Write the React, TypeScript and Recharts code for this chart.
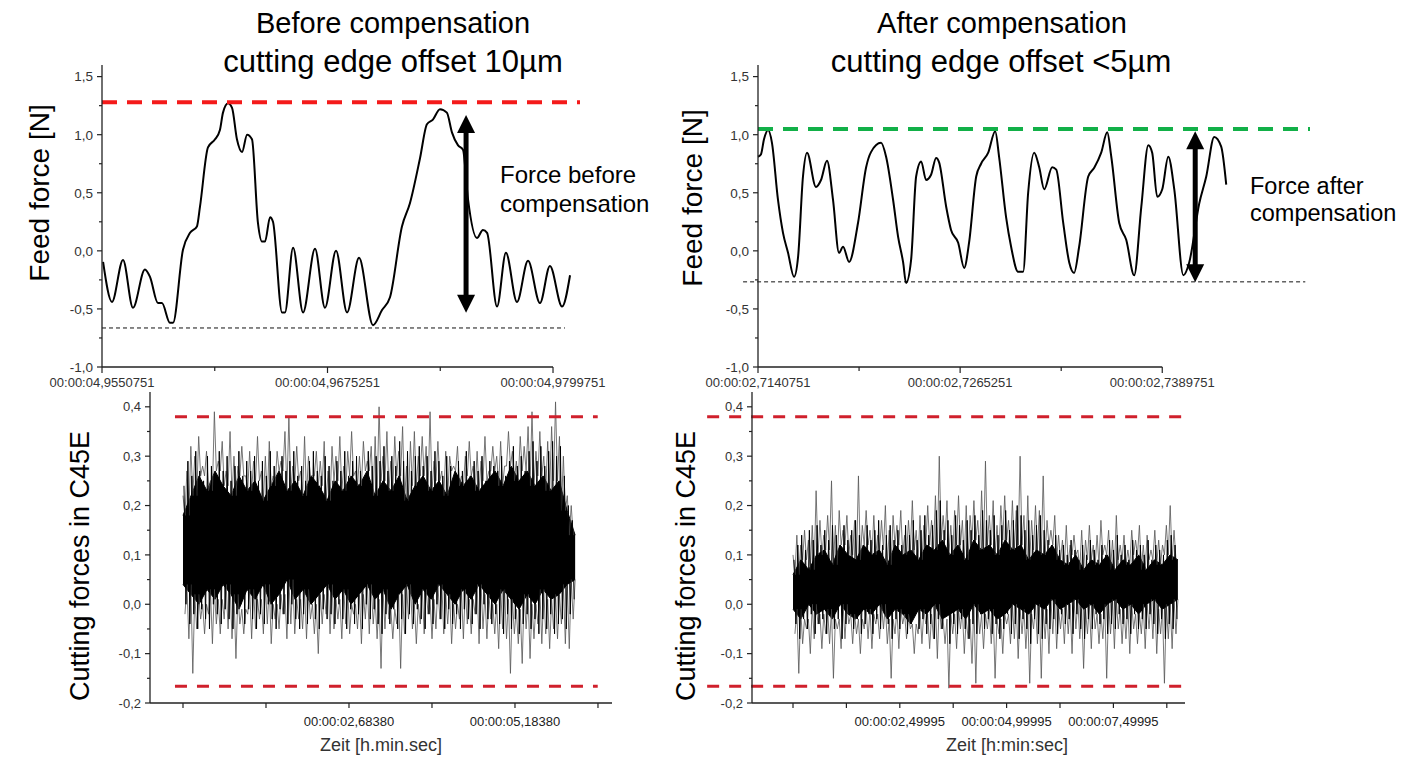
import React from 'react';
import { ComposedChart, Line, Area, XAxis, YAxis, ReferenceLine } from 'recharts';

const FONT = "Arial, 'Liberation Sans', Helvetica, sans-serif";

// ---------- Top left: before compensation (time in ms after base) ----------
const beforeBase = 4.9550751;
const beforeTime = [0.06, 0.55, 1.16, 1.71, 2.37, 2.65, 3.09, 3.31, 3.75, 3.92, 4.47, 4.86, 5.24, 5.41, 5.85, 6.24, 6.51, 6.68, 6.96, 7.18, 7.45, 7.73, 8.01, 8.28, 8.61, 8.83, 9.0, 9.28, 9.44, 9.94, 10.1, 10.55, 11.1, 11.76, 12.31, 12.92, 13.53, 14.19, 14.96, 15.46, 15.9, 16.56, 17.0, 17.56, 17.94, 18.27, 18.66, 19.04, 19.32, 19.65, 19.93, 20.21, 20.7, 21.03, 21.26, 21.81, 22.3, 22.91, 23.52, 24.18, 24.73, 25.4, 25.84];
const beforeForce = [-0.095, -0.44, -0.078, -0.49, -0.16, -0.224, -0.45, -0.45, -0.62, -0.62, 0.01, 0.155, 0.21, 0.38, 0.89, 0.96, 1.04, 1.19, 1.27, 1.23, 0.96, 0.85, 1.0, 0.96, 0.24, 0.08, 0.08, 0.29, 0.25, -0.53, -0.53, 0.026, -0.53, 0.017, -0.49, 0.0, -0.53, -0.06, -0.64, -0.51, -0.4, 0.21, 0.41, 0.8, 1.09, 1.13, 1.22, 1.19, 1.02, 0.91, 0.87, 0.44, 0.11, 0.18, 0.155, -0.48, -0.017, -0.44, -0.086, -0.45, -0.13, -0.48, -0.21];
const beforeUpper = 1.28;
const beforeLower = -0.664;
const beforeArrow = { t: 20.1, top: 1.17, bottom: -0.534 };

// ---------- Top right: after compensation ----------
const afterBase = 2.7140751;
const afterTime = [0, 0.18, 0.37, 0.62, 0.86, 1.23, 1.54, 1.85, 2.22, 2.47, 2.77, 3.02, 3.57, 3.88, 4.25, 4.62, 4.99, 5.24, 5.61, 6.16, 6.66, 6.96, 7.58, 7.89, 8.32, 8.63, 8.94, 9.12, 9.43, 9.74, 10.05, 10.35, 10.66, 10.97, 11.16, 11.59, 11.89, 12.33, 12.7, 13.0, 13.44, 13.74, 14.18, 14.61, 14.85, 15.28, 15.59, 16.02, 16.33, 16.64, 17.01, 17.32, 17.63, 18.12, 18.37, 18.8, 19.17, 19.47, 19.78, 20.34, 20.71, 21.14, 21.51, 21.76, 22.25, 22.68, 23.17, 23.61, 24.04, 24.28, 24.59, 24.9, 25.27, 25.64, 26.2, 26.56, 27.18, 27.61, 28.1, 28.53, 28.84];
const afterForce = [0.81, 0.83, 0.96, 1.04, 0.93, 0.44, 0.155, -0.017, -0.224, -0.05, 0.64, 0.845, 0.55, 0.61, 0.776, 0.44, -0.017, 0.035, -0.095, 0.24, 0.72, 0.85, 0.93, 0.81, 0.44, 0.12, -0.1, -0.276, -0.078, 0.64, 0.77, 0.61, 0.655, 0.8, 0.76, 0.38, 0.18, 0.07, -0.147, 0.07, 0.64, 0.75, 0.845, 1.03, 0.81, 0.29, 0.035, -0.18, -0.18, 0.5, 0.845, 0.72, 0.53, 0.72, 0.7, 0.24, -0.1, -0.19, 0.035, 0.64, 0.715, 0.845, 1.02, 0.81, 0.24, 0.095, -0.21, 0.38, 0.91, 0.845, 0.465, 0.53, 0.81, 0.53, -0.21, -0.1, 0.41, 0.64, 0.98, 0.897, 0.57];
const afterUpper = 1.05;
const afterLower = -0.267;
const afterArrow = { t: 26.93, top: 1.03, bottom: -0.27 };

const topTimeTicks = [0, 6.225, 12.45, 18.675, 24.9];
const topForceTicks = [-1, -0.75, -0.5, -0.25, 0, 0.25, 0.5, 0.75, 1, 1.25, 1.5];

// ---------- Bottom: cutting forces in C45E ----------
const cutTicks = [-0.2, -0.15, -0.1, -0.05, 0, 0.05, 0.1, 0.15, 0.2, 0.25, 0.3, 0.35, 0.4];
const cutLimitUpper = 0.38;
const cutLimitLower = -0.166;

// before (bottom left), seconds
const cutBeforeStart = 0.1838;
const cutBeforeEnd = 6.09;
const cutBeforeTicks = [0.1838, 1.4338, 2.6838, 3.9338, 5.1838, 6.4338];
const cutBeforeLabeled = [2.6838, 5.1838];
const cutBeforeSpikeHi = [
  0.22, 0.27, 0.32, 0.30, 0.34, 0.28, 0.31, 0.25, 0.39, 0.29,
  0.33, 0.27, 0.35, 0.30, 0.28, 0.32, 0.26, 0.31, 0.29, 0.34,
  0.27, 0.30, 0.33, 0.26, 0.31, 0.29, 0.35, 0.38, 0.28, 0.32,
  0.27, 0.34, 0.30, 0.26, 0.31, 0.29, 0.33, 0.27, 0.32, 0.30,
  0.34, 0.28, 0.31, 0.35, 0.27, 0.30, 0.33, 0.29, 0.32, 0.34,
  0.40, 0.30, 0.35, 0.29, 0.34, 0.31, 0.36, 0.28, 0.33, 0.35,
  0.30, 0.34, 0.32, 0.39, 0.29, 0.33, 0.27, 0.31, 0.30, 0.28,
  0.32, 0.26, 0.30, 0.33, 0.28, 0.31, 0.29, 0.34, 0.27, 0.32,
  0.30, 0.33, 0.28, 0.35, 0.31, 0.29, 0.34, 0.32, 0.36, 0.39,
  0.31, 0.35, 0.30, 0.33, 0.36, 0.41, 0.34, 0.30, 0.22, 0.20,
];
const cutBeforeSpikeLo = [
  -0.02, -0.07, -0.14, -0.05, -0.03, -0.06, -0.02, -0.08, -0.04, -0.06,
  -0.03, -0.05, -0.07, -0.11, -0.04, -0.06, -0.02, -0.07, -0.05, -0.03,
  -0.06, -0.04, -0.08, -0.03, -0.05, -0.02, -0.07, -0.04, -0.06, -0.03,
  -0.05, -0.07, -0.03, -0.06, -0.10, -0.04, -0.02, -0.06, -0.05, -0.03,
  -0.07, -0.04, -0.06, -0.02, -0.05, -0.08, -0.03, -0.06, -0.04, -0.07,
  -0.13, -0.05, -0.03, -0.07, -0.04, -0.13, -0.06, -0.03, -0.05, -0.08,
  -0.04, -0.06, -0.02, -0.07, -0.05, -0.03, -0.06, -0.04, -0.08, -0.05,
  -0.03, -0.07, -0.04, -0.06, -0.02, -0.08, -0.05, -0.07, -0.03, -0.06,
  -0.09, -0.05, -0.07, -0.14, -0.06, -0.08, -0.12, -0.05, -0.11, -0.07,
  -0.04, -0.08, -0.06, -0.09, -0.05, -0.07, -0.04, -0.08, -0.09, -0.03,
];
const cutBeforeMidHi = [
  0.24, 0.29, 0.26, 0.31, 0.27, 0.25, 0.30, 0.28, 0.26, 0.31,
  0.27, 0.30, 0.25, 0.28, 0.31, 0.26, 0.29, 0.27, 0.30, 0.25,
  0.29, 0.26, 0.31, 0.28, 0.25, 0.30, 0.27, 0.29, 0.31, 0.26,
  0.28, 0.25, 0.29, 0.31, 0.27, 0.26, 0.30, 0.28, 0.25, 0.29,
  0.27, 0.31, 0.26, 0.29, 0.30, 0.27, 0.25, 0.31, 0.28, 0.30,
  0.29, 0.32, 0.27, 0.30, 0.28, 0.33, 0.29, 0.31, 0.27, 0.30,
  0.32, 0.28, 0.30, 0.27, 0.31, 0.29, 0.26, 0.30, 0.28, 0.25,
  0.29, 0.27, 0.31, 0.26, 0.29, 0.27, 0.30, 0.25, 0.29, 0.28,
  0.27, 0.30, 0.26, 0.29, 0.32, 0.28, 0.30, 0.27, 0.31, 0.33,
  0.29, 0.32, 0.28, 0.31, 0.33, 0.30, 0.32, 0.26, 0.20, 0.17,
];
const cutBeforeMidLo = [
  0.00, -0.04, -0.02, -0.05, -0.01, -0.03, -0.05, 0.00, -0.02, -0.04,
  -0.01, -0.03, -0.05, -0.02, 0.00, -0.04, -0.01, -0.03, -0.05, -0.02,
  -0.04, 0.00, -0.03, -0.05, -0.01, -0.02, -0.04, 0.00, -0.03, -0.05,
  -0.02, -0.04, 0.00, -0.03, -0.05, -0.01, -0.03, -0.02, -0.04, 0.00,
  -0.03, -0.05, -0.01, -0.04, -0.02, -0.05, 0.00, -0.03, -0.01, -0.04,
  -0.06, -0.02, -0.04, -0.01, -0.05, -0.03, -0.06, -0.02, -0.04, -0.01,
  -0.03, -0.05, -0.02, -0.04, 0.00, -0.03, -0.05, -0.01, -0.04, -0.02,
  -0.05, -0.01, -0.03, -0.04, -0.02, -0.05, 0.00, -0.03, -0.04, -0.02,
  -0.04, -0.06, -0.02, -0.05, -0.03, -0.06, -0.04, -0.02, -0.05, -0.03,
  -0.06, -0.03, -0.05, -0.02, -0.06, -0.04, -0.03, -0.05, -0.02, 0.01,
];
const cutBeforeCoreHi = [0.18, 0.22, 0.26, 0.23, 0.27, 0.24, 0.22, 0.26, 0.23, 0.25, 0.21, 0.24, 0.27, 0.23, 0.25, 0.22, 0.26, 0.24, 0.21, 0.25, 0.23, 0.26, 0.24, 0.27, 0.22, 0.25, 0.23, 0.26, 0.21, 0.24, 0.26, 0.23, 0.25, 0.22, 0.27, 0.24, 0.26, 0.23, 0.25, 0.27, 0.24, 0.28, 0.25, 0.27, 0.24, 0.26, 0.23, 0.25, 0.19, 0.14];
const cutBeforeCoreLo = [0.04, 0.02, 0.00, 0.03, 0.01, 0.04, 0.02, -0.01, 0.03, 0.01, 0.04, 0.00, 0.02, 0.05, 0.01, 0.03, 0.00, 0.02, 0.04, 0.01, 0.03, 0.00, 0.02, 0.04, 0.01, 0.03, -0.01, 0.02, 0.04, 0.00, 0.03, 0.01, 0.04, 0.02, 0.00, 0.03, 0.01, 0.04, 0.02, 0.00, 0.03, 0.01, -0.01, 0.02, 0.00, 0.03, 0.01, 0.02, 0.04, 0.05];

// after (bottom right), seconds
const cutAfterStart = 0;
const cutAfterEnd = 9.01;
const cutAfterTicks = [-0.00005, 1.24995, 2.49995, 3.74995, 4.99995, 6.24995, 7.49995, 8.74995];
const cutAfterLabeled = [2.49995, 4.99995, 7.49995];
const cutAfterSpikeHi = [
  0.10, 0.14, 0.12, 0.15, 0.13, 0.16, 0.23, 0.17, 0.14, 0.18,
  0.25, 0.16, 0.19, 0.15, 0.18, 0.14, 0.17, 0.26, 0.16, 0.19,
  0.15, 0.18, 0.14, 0.17, 0.20, 0.15, 0.18, 0.16, 0.19, 0.14,
  0.17, 0.21, 0.15, 0.18, 0.16, 0.20, 0.17, 0.22, 0.30, 0.18,
  0.21, 0.16, 0.19, 0.22, 0.17, 0.20, 0.18, 0.21, 0.17, 0.23,
  0.29, 0.18, 0.21, 0.16, 0.20, 0.22, 0.17, 0.21, 0.19, 0.30,
  0.18, 0.22, 0.17, 0.20, 0.19, 0.26, 0.17, 0.15, 0.18, 0.14,
  0.13, 0.16, 0.12, 0.14, 0.11, 0.15, 0.13, 0.16, 0.12, 0.14,
  0.17, 0.12, 0.15, 0.13, 0.18, 0.12, 0.14, 0.11, 0.15, 0.13,
  0.16, 0.12, 0.14, 0.11, 0.15, 0.13, 0.12, 0.16, 0.20, 0.15,
];
const cutAfterSpikeLo = [
  -0.06, -0.14, -0.08, -0.05, -0.10, -0.07, -0.04, -0.09, -0.06, -0.08,
  -0.15, -0.05, -0.09, -0.07, -0.04, -0.08, -0.06, -0.10, -0.05, -0.07,
  -0.09, -0.04, -0.07, -0.05, -0.08, -0.15, -0.06, -0.09, -0.04, -0.07,
  -0.05, -0.10, -0.06, -0.08, -0.04, -0.09, -0.07, -0.11, -0.05, -0.08,
  -0.17, -0.06, -0.09, -0.05, -0.10, -0.07, -0.12, -0.16, -0.06, -0.09,
  -0.05, -0.08, -0.15, -0.06, -0.10, -0.04, -0.08, -0.07, -0.11, -0.06,
  -0.09, -0.16, -0.05, -0.08, -0.15, -0.07, -0.10, -0.06, -0.09, -0.05,
  -0.08, -0.06, -0.10, -0.05, -0.07, -0.13, -0.06, -0.09, -0.05, -0.08,
  -0.07, -0.15, -0.06, -0.09, -0.05, -0.08, -0.07, -0.10, -0.05, -0.08,
  -0.06, -0.09, -0.05, -0.07, -0.10, -0.06, -0.16, -0.07, -0.09, -0.06,
];
const cutAfterMidHi = [
  0.09, 0.12, 0.14, 0.11, 0.15, 0.13, 0.16, 0.12, 0.15, 0.13,
  0.16, 0.14, 0.12, 0.16, 0.13, 0.15, 0.17, 0.14, 0.12, 0.16,
  0.13, 0.15, 0.17, 0.12, 0.14, 0.16, 0.13, 0.15, 0.12, 0.16,
  0.14, 0.17, 0.13, 0.15, 0.18, 0.14, 0.16, 0.19, 0.21, 0.15,
  0.17, 0.14, 0.18, 0.16, 0.13, 0.17, 0.15, 0.18, 0.14, 0.19,
  0.17, 0.15, 0.18, 0.14, 0.16, 0.19, 0.15, 0.17, 0.20, 0.18,
  0.15, 0.17, 0.14, 0.16, 0.18, 0.15, 0.13, 0.12, 0.14, 0.11,
  0.12, 0.10, 0.13, 0.11, 0.09, 0.12, 0.10, 0.13, 0.11, 0.09,
  0.12, 0.10, 0.13, 0.11, 0.14, 0.10, 0.12, 0.09, 0.13, 0.11,
  0.12, 0.10, 0.13, 0.09, 0.12, 0.11, 0.10, 0.13, 0.14, 0.12,
];
const cutAfterMidLo = [
  -0.04, -0.07, -0.03, -0.05, -0.02, -0.06, -0.04, -0.03, -0.06, -0.02,
  -0.05, -0.03, -0.07, -0.04, -0.02, -0.05, -0.03, -0.06, -0.04, -0.02,
  -0.06, -0.03, -0.05, -0.02, -0.04, -0.07, -0.03, -0.05, -0.02, -0.06,
  -0.04, -0.02, -0.05, -0.03, -0.06, -0.04, -0.07, -0.03, -0.05, -0.02,
  -0.08, -0.04, -0.06, -0.03, -0.05, -0.07, -0.04, -0.06, -0.02, -0.05,
  -0.03, -0.06, -0.04, -0.07, -0.05, -0.02, -0.06, -0.04, -0.07, -0.03,
  -0.05, -0.08, -0.03, -0.06, -0.07, -0.04, -0.05, -0.03, -0.06, -0.02,
  -0.04, -0.03, -0.06, -0.02, -0.05, -0.07, -0.03, -0.05, -0.02, -0.04,
  -0.03, -0.06, -0.04, -0.05, -0.02, -0.04, -0.03, -0.06, -0.02, -0.05,
  -0.03, -0.05, -0.02, -0.04, -0.06, -0.03, -0.07, -0.04, -0.05, -0.03,
];
const cutAfterCoreHi = [0.06, 0.09, 0.07, 0.10, 0.11, 0.08, 0.12, 0.10, 0.09, 0.12, 0.10, 0.11, 0.08, 0.12, 0.10, 0.11, 0.09, 0.12, 0.11, 0.13, 0.10, 0.12, 0.09, 0.13, 0.11, 0.12, 0.10, 0.13, 0.11, 0.12, 0.09, 0.11, 0.10, 0.12, 0.09, 0.08, 0.10, 0.07, 0.09, 0.08, 0.10, 0.07, 0.09, 0.08, 0.10, 0.07, 0.09, 0.08, 0.10, 0.09];
const cutAfterCoreLo = [-0.01, -0.03, 0.00, -0.02, -0.01, -0.03, 0.00, -0.02, -0.03, -0.01, -0.02, 0.00, -0.03, -0.01, -0.02, -0.04, -0.01, -0.02, 0.00, -0.03, -0.02, -0.01, -0.03, 0.00, -0.02, -0.01, -0.03, -0.02, 0.00, -0.01, -0.02, 0.00, -0.01, 0.01, -0.01, 0.00, 0.01, -0.01, 0.00, -0.02, 0.00, 0.01, -0.01, 0.00, -0.02, 0.00, 0.01, -0.01, 0.00, 0.01];

// ---------- helpers ----------
const comma = (v: number, d: number) => v.toFixed(d).replace('.', ',');
const near = (a: number, b: number) => Math.abs(a - b) < 1e-6;

const makeYTick = (step: number, len: number, fontSize: number, fill: string) => (p: any) => {
  const v = p.payload.value;
  const major = near(v / step, Math.round(v / step));
  return (
    <g>
      <line x1={p.x} y1={p.y} x2={p.x - (major ? len : len * 0.6)} y2={p.y} stroke="#222" strokeWidth={1.2} />
      {major && (
        <text x={p.x - len - 4} y={p.y} dy="0.36em" textAnchor="end" fontSize={fontSize} fontFamily={FONT} fill={fill}>
          {comma(v, 1)}
        </text>
      )}
    </g>
  );
};

const makeXTick = (isLabeled: (v: number) => boolean, label: (v: number) => string, len: number, minorLen: number, fontSize: number, dy: number, fill: string) => (p: any) => {
  const v = p.payload.value;
  const lab = isLabeled(v);
  return (
    <g>
      <line x1={p.x} y1={p.y} x2={p.x} y2={p.y + (lab ? len : minorLen)} stroke="#222" strokeWidth={1.2} />
      {lab && (
        <text x={p.x} y={p.y + dy} textAnchor="middle" fontSize={fontSize} fontFamily={FONT} fill={fill}>
          {label(v)}
        </text>
      )}
    </g>
  );
};

const arrowShape = (props: any) => {
  const { x1, y1, y2 } = props;
  const x = x1;
  const top = Math.min(y1, y2);
  const bot = Math.max(y1, y2);
  const hw = 9;
  const hh = 18;
  return (
    <g>
      <line x1={x} y1={top + hh - 2} x2={x} y2={bot - hh + 2} stroke="#000" strokeWidth={5} />
      <polygon points={`${x},${top} ${x - hw},${top + hh} ${x + hw},${top + hh}`} fill="#000" />
      <polygon points={`${x},${bot} ${x - hw},${bot - hh} ${x + hw},${bot - hh}`} fill="#000" />
    </g>
  );
};

const topLabel = (base: number) => (v: number) => `00:00:${(base + v / 1000).toFixed(7).padStart(10, '0').replace('.', ',')}`;
const bottomLabel = (v: number) => `00:00:${v.toFixed(5).padStart(8, '0').replace('.', ',')}`;

// zig-zag trace between two value lists (b may be shorter: it is sampled proportionally)
const zig = (t0: number, t1: number, a: number[], b: number[], phase: number) => {
  const step = (t1 - t0) / a.length;
  return a.flatMap((v, i) => [
    { t: t0 + (i + phase) * step, v },
    { t: t0 + (i + phase + 0.5) * step, v: b[Math.floor((i * b.length) / a.length)] },
  ]);
};
const core = (t0: number, t1: number, hi: number[], lo: number[]) =>
  hi.map((h, i) => ({ t: t0 + (i * (t1 - t0)) / (hi.length - 1), r: [lo[i], h] }));

type TopProps = {
  left: number; top: number; width: number; height: number; yw: number; mr: number;
  times: number[]; forces: number[]; xMax: number; base: number;
  upper: number; upperColor: string; upperFrom: number; upperTo: number;
  lower: number; lowerFrom: number; lowerTo: number;
  arrow: { t: number; top: number; bottom: number };
};

function TopChart(p: TopProps) {
  const data = p.times.map((t, i) => ({ t, v: p.forces[i] }));
  const isMajor = (v: number) => near(v / 12.45, Math.round(v / 12.45));
  return (
    <div style={{ position: 'absolute', left: p.left, top: p.top }}>
      <ComposedChart width={p.width} height={p.height} margin={{ top: 15, right: p.mr, bottom: 3, left: 0 }}>
        <XAxis type="number" dataKey="t" domain={[0, p.xMax]} ticks={topTimeTicks} interval={0} height={30}
          axisLine={false} tickLine={false} tickSize={0} tickMargin={0}
          tick={makeXTick(isMajor, topLabel(p.base), 6, 4, 13, 20, '#333')} />
        <YAxis type="number" domain={[-1, 1.6]} ticks={topForceTicks} interval={0} width={p.yw}
          axisLine={{ stroke: '#222', strokeWidth: 1.3 }} tickLine={false} tickSize={0} tickMargin={0}
          tick={makeYTick(0.5, 5, 13.5, '#333')} />
        <ReferenceLine segment={[{ x: 0, y: -1 }, { x: 24.9, y: -1 }]} stroke="#222" strokeWidth={1.3} ifOverflow="visible" />
        <ReferenceLine segment={[{ x: p.lowerFrom, y: p.lower }, { x: p.lowerTo, y: p.lower }]} stroke="#111" strokeWidth={1} strokeDasharray="4 3" ifOverflow="visible" />
        <Line data={data} dataKey="v" type="monotone" stroke="#000" strokeWidth={2} dot={false} isAnimationActive={false} />
        <ReferenceLine segment={[{ x: p.upperFrom, y: p.upper }, { x: p.upperTo, y: p.upper }]} stroke={p.upperColor} strokeWidth={4} strokeDasharray="15 10" ifOverflow="visible" />
        <ReferenceLine segment={[{ x: p.arrow.t, y: p.arrow.top }, { x: p.arrow.t, y: p.arrow.bottom }]} shape={arrowShape} ifOverflow="visible" />
      </ComposedChart>
    </div>
  );
}

type BottomProps = {
  left: number; top: number; width: number; height: number; yw: number; mr: number;
  xMin: number; xMax: number; ticks: number[]; labeled: number[];
  t0: number; t1: number; hi: number[]; lo: number[]; midHi: number[]; midLo: number[];
  coreHi: number[]; coreLo: number[];
  limFrom: number; limTo: number;
};

function BottomChart(p: BottomProps) {
  const upperSpikes = zig(p.t0, p.t1, p.hi, p.coreHi, 0);
  const lowerSpikes = zig(p.t0, p.t1, p.lo, p.coreLo, 0.5);
  const mid = zig(p.t0, p.t1, p.midHi, p.midLo, 0.25);
  const cc = core(p.t0, p.t1, p.coreHi, p.coreLo);
  const isLab = (v: number) => p.labeled.some((l) => near(l, v));
  return (
    <div style={{ position: 'absolute', left: p.left, top: p.top }}>
      <ComposedChart width={p.width} height={p.height} margin={{ top: 12, right: p.mr, bottom: 24, left: 0 }}>
        <XAxis type="number" dataKey="t" domain={[p.xMin, p.xMax]} ticks={p.ticks} interval={0} height={30}
          axisLine={{ stroke: '#222', strokeWidth: 1.3 }} tickLine={false} tickSize={0} tickMargin={0}
          tick={makeXTick(isLab, bottomLabel, 5, 5, 13, 23, '#222')} />
        <YAxis type="number" domain={[-0.2, 0.43]} ticks={cutTicks} interval={0} width={p.yw}
          axisLine={{ stroke: '#222', strokeWidth: 1.3 }} tickLine={false} tickSize={0} tickMargin={0}
          tick={makeYTick(0.1, 5, 13, '#333')} />
        <Area data={cc} dataKey="r" type="linear" stroke="#000" strokeWidth={1} fill="#000" fillOpacity={1} isAnimationActive={false} />
        <Line data={upperSpikes} dataKey="v" type="linear" stroke="#555" strokeWidth={0.8} dot={false} isAnimationActive={false} />
        <Line data={lowerSpikes} dataKey="v" type="linear" stroke="#555" strokeWidth={0.8} dot={false} isAnimationActive={false} />
        <Line data={mid} dataKey="v" type="linear" stroke="#000" strokeWidth={1} dot={false} isAnimationActive={false} />
        <ReferenceLine segment={[{ x: p.limFrom, y: cutLimitUpper }, { x: p.limTo, y: cutLimitUpper }]} stroke="#d0202c" strokeWidth={3} strokeDasharray="12 10" ifOverflow="visible" />
        <ReferenceLine segment={[{ x: p.limFrom, y: cutLimitLower }, { x: p.limTo, y: cutLimitLower }]} stroke="#d0202c" strokeWidth={3} strokeDasharray="12 10" ifOverflow="visible" />
      </ComposedChart>
    </div>
  );
}

const txt = (extra: React.CSSProperties): React.CSSProperties => ({ position: 'absolute', fontFamily: FONT, color: '#000', whiteSpace: 'nowrap', ...extra });
const ctxt = (cx: number, cy: number, size: number, color = '#000'): React.CSSProperties =>
  txt({ left: cx, top: cy, fontSize: size, color, transform: 'translate(-50%, -50%)', lineHeight: 1 });
const vtxt = (cx: number, cy: number, size: number): React.CSSProperties =>
  txt({ left: cx, top: cy, fontSize: size, lineHeight: 1, transform: 'translate(-50%, -50%) rotate(-90deg)' });

export default function App() {
  return (
    <div style={{ position: 'absolute', left: 0, top: 0, width: 1403, height: 757, background: '#fff', overflow: 'hidden' }}>
      <TopChart left={0} top={50} width={640} height={350} yw={102} mr={60}
        times={beforeTime} forces={beforeForce} xMax={26.39} base={beforeBase}
        upper={beforeUpper} upperColor="#f41a1a" upperFrom={0} upperTo={26.39}
        lower={beforeLower} lowerFrom={0} lowerTo={25.56} arrow={beforeArrow} />
      <TopChart left={640} top={50} width={740} height={350} yw={118} mr={70}
        times={afterTime} forces={afterForce} xMax={34.0} base={afterBase}
        upper={afterUpper} upperColor="#12b048" upperFrom={0} upperTo={34.0}
        lower={afterLower} lowerFrom={-0.92} lowerTo={33.71} arrow={afterArrow} />
      <BottomChart left={0} top={380} width={640} height={377} yw={150} mr={28}
        xMin={-0.3132} xMax={6.645} ticks={cutBeforeTicks} labeled={cutBeforeLabeled}
        t0={cutBeforeStart} t1={cutBeforeEnd} hi={cutBeforeSpikeHi} lo={cutBeforeSpikeLo}
        midHi={cutBeforeMidHi} midLo={cutBeforeMidLo}
        coreHi={cutBeforeCoreHi} coreLo={cutBeforeCoreLo} limFrom={0.063} limTo={6.43} />
      <BottomChart left={640} top={380} width={600} height={377} yw={112} mr={55}
        xMin={-0.96} xMax={9.176} ticks={cutAfterTicks} labeled={cutAfterLabeled}
        t0={cutAfterStart} t1={cutAfterEnd} hi={cutAfterSpikeHi} lo={cutAfterSpikeLo}
        midHi={cutAfterMidHi} midLo={cutAfterMidLo}
        coreHi={cutAfterCoreHi} coreLo={cutAfterCoreLo} limFrom={-2.01} limTo={9.176} />

      <div style={ctxt(393, 23, 29)}>Before compensation</div>
      <div style={ctxt(393, 61, 31)}>cutting edge offset 10µm</div>
      <div style={ctxt(1002, 23, 29)}>After compensation</div>
      <div style={ctxt(1001, 61, 31)}>cutting edge offset &lt;5µm</div>

      <div style={txt({ left: 500, top: 160, fontSize: 24, lineHeight: '29px' })}>
        Force before<br />compensation
      </div>
      <div style={txt({ left: 1250, top: 173, fontSize: 23.5, lineHeight: '27px' })}>
        Force after<br />compensation
      </div>

      <div style={vtxt(40, 193, 28)}>Feed force [N]</div>
      <div style={vtxt(693, 198, 28)}>Feed force [N]</div>
      <div style={vtxt(80, 566, 27)}>Cutting forces in C45E</div>
      <div style={vtxt(686, 566, 27)}>Cutting forces in C45E</div>

      <div style={ctxt(381, 745, 18, '#333')}>Zeit [h.min.sec]</div>
      <div style={ctxt(1007, 745, 18, '#333')}>Zeit [h:min:sec]</div>
    </div>
  );
}
